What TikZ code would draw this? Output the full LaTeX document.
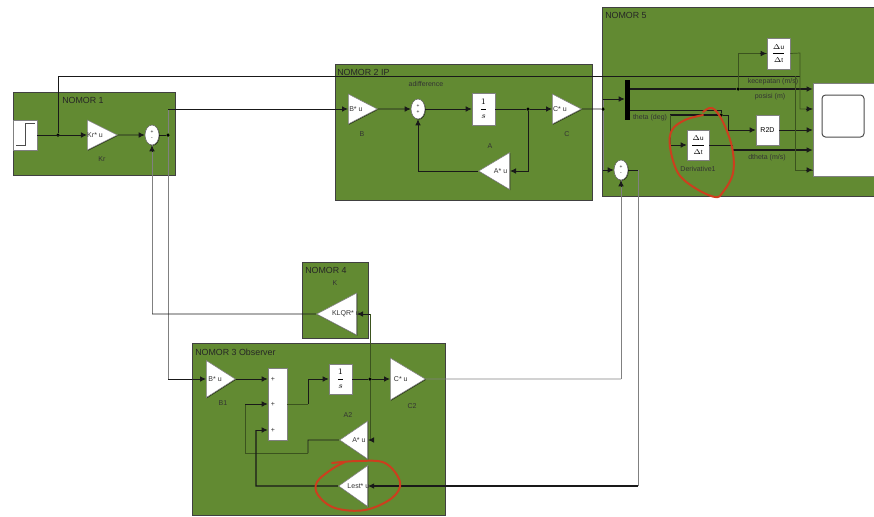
\documentclass[tikz,border=0pt]{standalone}
\usepackage{fontspec}
\setmainfont{Liberation Sans}
\usepackage{xcolor}
\usetikzlibrary{positioning,arrows.meta,calc,shapes.geometric,shadows}
\definecolor{groupgreen}{RGB}{98,138,50}
\definecolor{redpen}{RGB}{205,62,30}
\newcommand{\px}{0.025cm}
\newcommand{\gn}[1]{\makebox[0pt]{#1}}
\newcommand{\delt}{\fontsize{4.5pt}{4.5pt}\selectfont$\displaystyle\frac{\Delta\mathrm{u}}{\Delta\mathrm{t}}$}
\newcommand{\ints}{\fontsize{6pt}{6pt}\selectfont$\displaystyle\frac{1}{s}$}

\begin{document}
\begin{tikzpicture}[
  x=\px, y=-\px,
  font=\fontsize{5pt}{6pt}\selectfont,
  group/.style={draw=black!75, line width=.7pt, fill=groupgreen, inner sep=0pt},
  title/.style={anchor=west, inner sep=0pt, font=\fontsize{6.3pt}{7pt}\selectfont, text=black!85},
  tag/.style={inner sep=0pt, text=black!80},
  cast/.style={drop shadow={shadow xshift=.5pt, shadow yshift=-.5pt, opacity=.6, fill=black}},
  blockw/.style={draw=black!50, fill=white, inner sep=0pt, align=center, cast},
  gain/.style={isosceles triangle, isosceles triangle stretches, draw=black!50, fill=white,
               inner sep=0pt, text=black!80, cast},
  sumb/.style={ellipse, draw=black!60, fill=white, inner sep=0pt, cast,
               minimum width=14*\px, minimum height=20*\px,
               font=\fontsize{3.5pt}{3.5pt}\selectfont, align=center},
  sig/.style={-{Latex[length=1.5mm,width=1.4mm]}, black!90, line width=.6pt},
  wire/.style={black!90, line width=.6pt},
  pale/.style={black!50, line width=.45pt},
  palegreen/.style={groupgreen!60!black, line width=.5pt},
  dot/.style={circle, fill=black, inner sep=0pt, minimum size=3.5*\px},
  redline/.style={redpen, line width=1.4pt, line cap=round, line join=round}
]
  \useasboundingbox (0,0) rectangle (874,516);

  % groups
  \node[group, minimum width=162*\px, minimum height=83*\px] (nomor1) at (94,133.5) {};
  \node[group, minimum width=257*\px, minimum height=136*\px] (nomor2) at (463.5,132) {};
  \node[group, minimum width=272*\px, minimum height=189*\px] (nomor5) at (738,101.5) {};
  \node[group, minimum width=66*\px, minimum height=76*\px] (nomor4) at (335,300) {};
  \node[group, minimum width=253*\px, minimum height=172*\px] (nomor3) at (318.5,429) {};
  \node[title] (title1) at (62,100) {NOMOR 1};
  \node[title] (title2) at (337,72) {NOMOR 2 IP};
  \node[title] (title5) at (605,15) {NOMOR 5};
  \node[title] (title4) at (305,270) {NOMOR 4};
  \node[title] (title3) at (195,352) {NOMOR 3 Observer};

  % nomor 1
  \node[blockw, minimum width=24*\px, minimum height=30*\px] (step) at (25,135) {};
  \draw[black!70, line width=.5pt] (16,145) -- (25,145) -- (25,123) -- (35,123);
  \node[gain, minimum width=30*\px, minimum height=30*\px, anchor=west] (kr) at (87,135) {\gn{Kr* u}};
  \node[tag] (krlabel) at (102,159) {Kr};
  \node[sumb] (sum1) at (152,135) {+\\[.5pt]-};
  \coordinate[dot] (refdot) at (58,135);
  \coordinate[dot] (errdot) at (168,135);

  % nomor 2
  \node[gain, minimum width=30*\px, minimum height=29*\px, anchor=west] (b) at (348,109) {\gn{B* u}};
  \node[tag] (blabel) at (362,134) {B};
  \node[sumb] (sum2) at (418,109) {+\\[.5pt]+};
  \node[tag] (sum2label) at (426,84) {adifference};
  \node[blockw, minimum width=23*\px, minimum height=32*\px] (int1) at (483.5,109) {\ints};
  \node[tag] (alabel) at (490,146) {A};
  \node[gain, minimum width=30*\px, minimum height=29*\px, anchor=west] (c) at (552,109) {\gn{C* u}};
  \node[tag] (clabel) at (567,134) {C};
  \node[gain, shape border rotate=180, minimum width=37*\px, minimum height=31*\px, anchor=east] (a) at (510,171) {\gn{A* u}};
  \coordinate[dot] (xdot) at (528,109);
  \coordinate[dot] (ydot) at (603,109);

  % nomor 5
  \node[fill=black, inner sep=0pt, minimum width=5*\px, minimum height=40*\px] (demux) at (627.5,100) {};
  \node[blockw, minimum width=23*\px, minimum height=31*\px] (deriv) at (778.5,53.5) {\delt};
  \node[blockw, minimum width=22*\px, minimum height=30*\px] (deriv1) at (698,145) {\delt};
  \node[tag] (deriv1label) at (698,169) {Derivative1};
  \node[blockw, minimum width=23*\px, minimum height=30*\px] (r2d) at (767.5,130) {R2D};
  \node[blockw, minimum width=61*\px, minimum height=93*\px] (scope) at (843.5,129.5) {};
  \node[draw=black!70, fill=white, rounded corners=2.5pt, line width=.7pt, minimum width=42*\px, minimum height=42*\px, inner sep=0pt] (screen) at (843,116) {};
  \node[sumb] (sum5) at (621,170) {+\\[.5pt]-};
  \node[tag] (veltag) at (773,82) {kecepatan (m/s)};
  \node[tag] (postag) at (770,97) {posisi (m)};
  \node[tag] (thetatag) at (650,118) {theta (deg)};
  \node[tag] (dthetatag) at (767,158) {dtheta (m/s)};
  \coordinate[dot] (posdot) at (738,89);
  \coordinate[dot] (thetadot) at (721,115);

  % nomor 4
  \node[tag] (klabel) at (335,283) {K};
  \node[gain, shape border rotate=180, minimum width=42*\px, minimum height=40*\px, anchor=east] (klqr) at (357,314) {\gn{KLQR* u}};

  % nomor 3
  \node[gain, minimum width=37*\px, minimum height=29*\px, anchor=west] (b1) at (206,379) {\gn{B* u}};
  \node[tag] (b1label) at (223,403) {B1};
  \node[blockw, minimum width=19*\px, minimum height=72*\px] (sum3) at (277.5,404) {};
  \node[tag] (plus1) at (273,379) {+};
  \node[tag] (plus2) at (273,404) {+};
  \node[tag] (plus3) at (273,430) {+};
  \node[blockw, minimum width=23*\px, minimum height=30*\px] (int2) at (340.5,379) {\ints};
  \node[tag] (a2label) at (348,415) {A2};
  \node[gain, minimum width=42*\px, minimum height=35*\px, anchor=west] (c2) at (390,379) {\gn{C* u}};
  \node[tag] (c2label) at (412,406) {C2};
  \node[gain, shape border rotate=180, minimum width=38*\px, minimum height=28*\px, anchor=east] (a2) at (368,440) {\gn{A* u}};
  \node[gain, shape border rotate=180, minimum width=41*\px, minimum height=29*\px, anchor=east] (lest) at (368,486) {\gn{Lest* u}};
  \coordinate[dot] (x2dot) at (370,379);

  % connectors, nomor 1
  \coordinate (reftop) at (58,76);
  \coordinate (refend) at (800,76);
  \coordinate (errtop) at (168,109);
  \coordinate (errlow) at (168,379);
  \coordinate (fbcorner) at (152,314);
  \draw[sig] (step) -- (kr.west);
  \draw[sig] (kr.east) -- (sum1);
  \draw[wire] (sum1) -- (errdot);
  \draw[wire] (refdot) -- (reftop) -- (refend);
  \draw[pale] (errdot) -- (errtop);
  \draw[sig] (errtop) -- (b.west);
  \draw[pale] (errdot) -- (errlow);
  \draw[sig] (errlow) -- (b1.west);
  \draw[pale] (fbcorner) -- (sum1);
  \draw[sig] ($(sum1.south)+(0,7)$) -- (sum1.south);
  \draw[wire] (klqr.west) -- (fbcorner);

  % connectors, nomor 2
  \draw[sig] (b.east) -- (sum2);
  \draw[sig] (sum2) -- (int1);
  \draw[wire] (int1) -- (xdot);
  \draw[sig] (xdot) -- (c.west);
  \draw[sig] (xdot) |- (a.east);
  \draw[sig] (a.west) -| (sum2);
  \draw[wire] (c.east) -- (ydot);

  % connectors, nomor 5
  \coordinate (demuxin) at (603,99);
  \coordinate (sum5in) at (603,170);
  \coordinate (thetaout) at (721,110);
  \coordinate (r2dleft) at (728,130);
  \coordinate (derivin) at (670,145);
  \coordinate (derivtop) at (670,115);
  \coordinate (dthetabend) at (732,150);
  \coordinate (derivout) at (800,53);
  \coordinate (derivlow) at (800,109);
  \coordinate (refmid) at (795,76);
  \coordinate (refdown) at (795,170);
  \coordinate (errout) at (638,170);
  \draw[pale] (ydot) -- (demuxin);
  \draw[sig] (demuxin) -- (demuxin -| demux.west);
  \draw[pale] (ydot) -- (sum5in);
  \draw[sig] (sum5in) -- (sum5);
  \draw[sig, line width=.8pt] (posdot -| demux.east) -- (posdot) -- (posdot -| scope.west);
  \draw[palegreen] (posdot) |- (deriv.west);
  \draw[sig] ($(deriv.west)+(-7,0)$) -- (deriv.west);
  \draw[wire] (thetaout -| demux.east) -- (thetaout) -- (thetadot);
  \draw[wire, line width=.8pt] (thetadot) -- (derivtop);
  \draw[palegreen] (derivtop) -- (derivin);
  \draw[sig] (derivin) -- (deriv1.west);
  \draw[wire] (thetadot) -| (r2dleft);
  \draw[sig] (r2dleft) -- (r2d.west);
  \draw[sig] (r2d.east) -- (r2d.east -| scope.west);
  \draw[wire] (deriv1.east) -- (deriv1.east -| dthetabend) -- (dthetabend);
  \draw[sig, line width=.8pt] (dthetabend) -- (dthetabend -| scope.west);
  \draw[palegreen] (deriv.east) -- (derivout) -- (derivlow) -- (derivlow -| scope.west);
  \draw[sig] ($(derivlow -| scope.west)+(-7,0)$) -- (derivlow -| scope.west);
  \draw[palegreen] (refmid) -- (refdown) -- (refdown -| scope.west);
  \draw[sig] ($(refdown -| scope.west)+(-7,0)$) -- (refdown -| scope.west);
  \draw[wire] (sum5) -- (errout);

  % connectors, nomor 3 and 4
  \coordinate (sumoutup) at (308,379);
  \coordinate (sumout) at (308,404);
  \coordinate (a2left) at (308,440);
  \coordinate (a2low) at (308,453);
  \coordinate (a2back) at (245,453);
  \coordinate (a2in) at (245,404);
  \coordinate (lestleft) at (256,486);
  \coordinate (lestup) at (256,430);
  \coordinate (kin) at (370,314);
  \coordinate (a2tap) at (370,440);
  \coordinate (c2out) at (621,379);
  \coordinate (errlowr) at (638,486);
  \draw[sig] (b1.east) -- (b1.east -| sum3.west);
  \draw[palegreen] (sum3.east) -- (sumout);
  \draw[wire] (sumout) -- (sumoutup);
  \draw[sig] (sumoutup) -- (int2);
  \draw[wire] (int2) -- (x2dot);
  \draw[sig] (x2dot) -- (c2.west);
  \draw[palegreen] (kin) -- (x2dot);
  \draw[palegreen] (x2dot) -- (a2tap);
  \draw[sig] (kin) -- (klqr.east);
  \draw[sig] (a2tap) -- (a2.east);
  \draw[wire] (a2.west) -- (a2left) -- (a2low);
  \draw[palegreen] (a2low) -- (a2back) -- (a2in);
  \draw[sig] (a2in) -- (a2in -| sum3.west);
  \draw[wire, line width=.8pt] (lest.west) -- (lestleft) -- (lestup);
  \draw[sig] (lestup) -- (lestup -| sum3.west);
  \draw[pale] (c2.east) -- (c2out);
  \draw[pale] (c2out) -- (sum5);
  \draw[sig] ($(sum5.south)+(0,7)$) -- (sum5.south);
  \draw[pale] (errout) -- (errlowr);
  \draw[sig, line width=.8pt] (errlowr) -- (lest.east);

  % red pen marks
  \draw[redline] plot[smooth, tension=.6] coordinates {(703,112) (712,108) (722,120) (732,147) (733,173) (723,192) (715,197) (695,188) (678,173) (670,147) (672,130) (685,120) (703,115)};
  \draw[redline] plot[smooth, tension=.6] coordinates {(332,463) (358,461) (385,463) (400,482) (392,498) (365,510) (335,508) (318,495) (317,482) (332,469) (345,462)};
\end{tikzpicture}
\end{document}
